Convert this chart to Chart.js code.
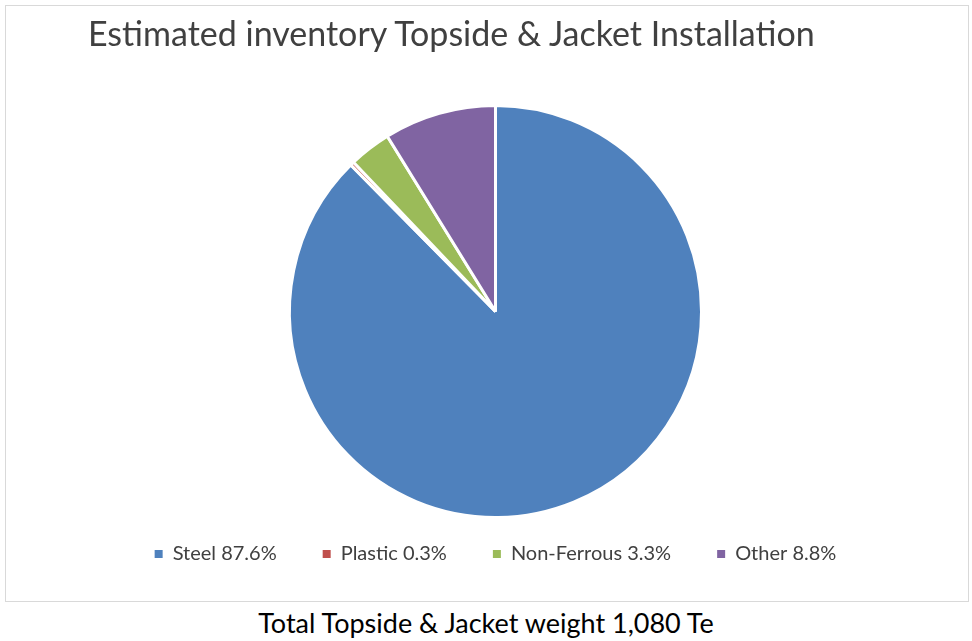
<!DOCTYPE html>
<html>
<head>
<meta charset="utf-8">
<script src="https://cdn.jsdelivr.net/npm/chart.js@4"></script>
<style>
  body { margin: 0; background: #fff; width: 972px; height: 641px; position: relative; overflow: hidden; }
  #frame { position: absolute; left: 5px; top: 5px; width: 964px; height: 597px; border: 1px solid #d9d9d9; box-sizing: border-box; }
  #title { position: absolute; left: 88px; top: 12px; font-family: Lato, sans-serif; font-size: 34px; color: #404040; white-space: nowrap; }
  #footer { position: absolute; left: 0; width: 972px; top: 606px; text-align: center; font-family: Lato, sans-serif; font-size: 27px; color: #000; }
  #wrap { position: absolute; left: 0; top: 0; width: 962px; height: 595px; }
</style>
</head>
<body>
<div id="frame">
  <div id="wrap"><canvas id="pie"></canvas></div>
</div>
<div id="title">Estimated inventory Topside &amp; Jacket Installation</div>
<div id="footer">Total Topside &amp; Jacket weight 1,080 Te</div>
<script>
// Material share of the topside & jacket inventory (percent)
const materials = ['Steel', 'Plastic', 'Non-Ferrous', 'Other'];
const shares    = [87.6, 0.3, 3.3, 8.8];
const colours   = ['#4f81bd', '#c0504d', '#9bbb59', '#8064a2'];

// The legend needs wide gaps between items but sits close under the pie,
// so pull it up a bit after Chart.js has laid it out.
const liftLegend = {
  id: 'liftLegend',
  afterLayout(chart) {
    const lg = chart.legend;
    lg.top -= 21;
    lg.bottom -= 21;
  },
};

const ctx = document.getElementById('pie').getContext('2d');

new Chart(ctx, {
  type: 'pie',
  data: {
    labels: materials,
    datasets: [{
      data: shares,
      backgroundColor: colours,
      borderColor: '#ffffff',
      borderWidth: 3,
    }],
  },
  plugins: [liftLegend],
  options: {
    responsive: true,
    maintainAspectRatio: false,
    animation: false,
    layout: {
      padding: { top: 98, left: 17, right: 0, bottom: 6 },
    },
    plugins: {
      legend: {
        position: 'bottom',
        labels: {
          color: '#404040',
          font: { family: 'Lato', size: 20 },
          usePointStyle: true,
          pointStyle: 'rect',
          boxWidth: 8,
          boxHeight: 8,
          padding: 46,
          // legend text carries the percentage, like "Steel 87.6%"
          generateLabels: (chart) => {
            const ds = chart.data.datasets[0];
            return chart.data.labels.map((name, i) => ({
              text: `${name} ${shares[i].toFixed(1)}%`,
              fillStyle: ds.backgroundColor[i],
              strokeStyle: ds.backgroundColor[i],
              lineWidth: 0,
              pointStyle: 'rect',
              fontColor: '#404040',
              index: i,
            }));
          },
        },
      },
      tooltip: { enabled: false },
    },
  },
});
</script>
</body>
</html>
